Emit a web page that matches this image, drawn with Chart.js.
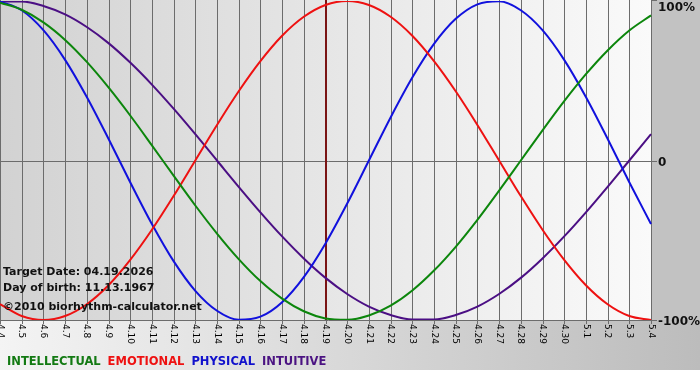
<!DOCTYPE html>
<html>
<head>
<meta charset="utf-8">
<script src="https://cdn.jsdelivr.net/npm/chart.js@4/dist/chart.umd.min.js"></script>
<style>
  html, body { margin: 0; padding: 0; background: #fff; }
  #wrap { width: 700px; height: 370px; }
</style>
</head>
<body>
<div id="wrap"><canvas id="bio" width="700" height="370"></canvas></div>
<script>
(function(){
    "use strict";

    const days = ['4.4','4.5','4.6','4.7','4.8','4.9','4.10','4.11','4.12','4.13','4.14','4.15','4.16','4.17','4.18','4.19','4.20',
        '4.21','4.22','4.23','4.24','4.25','4.26','4.27','4.28','4.29','4.30','5.1','5.2','5.3','5.4'];
    const intellectual = [99.0,94.5,86.6,75.6,61.8,45.8,28.2,9.5,-9.5,-28.2,-45.8,-61.8,-75.6,-86.6,-94.5,-99.0,-99.9,-97.2,-91.0,-81.5,-69.0,-54.1,-37.2,-18.9,0,18.9,37.2,54.1,69.0,81.5,91.0];
    const emotional = [-90.1,-97.5,-100,-97.5,-90.1,-78.2,-62.3,-43.4,-22.3,0,22.3,43.4,62.3,78.2,90.1,97.5,100,97.5,90.1,78.2,62.3,43.4,22.3,0,-22.3,-43.4,-62.3,-78.2,-90.1,-97.5,-100];
    const physical = [99.8,94.2,81.7,63.1,39.8,13.6,-13.6,-39.8,-63.1,-81.7,-94.2,-99.8,-97.9,-88.8,-73.1,-52.0,-27.0,0,27.0,52.0,73.1,88.8,97.9,99.8,94.2,81.7,63.1,39.8,13.6,-13.6,-39.8];
    const intuitive = [99.7,99.7,96.9,91.6,83.7,73.6,61.4,47.6,32.5,16.5,0,-16.5,-32.5,-47.6,-61.4,-73.6,-83.7,-91.6,-96.9,-99.7,-99.7,-96.9,-91.6,-83.7,-73.6,-61.4,-47.6,-32.5,-16.5,0,16.5];
    const yTicks = [100, 0, -100];
    const targetDay = '4.19';
    const infoLines = ['Target Date: 04.19.2026', 'Day of birth: 11.13.1967', '\u00a92010 biorhythm-calculator.net'];
    const legendItems = [
        { text: 'INTELLECTUAL', color: '#137a13' },
        { text: 'EMOTIONAL', color: '#ee1111' },
        { text: 'PHYSICAL', color: '#1111cc' },
        { text: 'INTUITIVE', color: '#4b1382' }
    ];

    const bgPlugin = {
        id: 'bioBg',
        beforeDraw(chart) {
            const c = chart.ctx, a = chart.chartArea, x = chart.scales.x, y = chart.scales.y;
            const W = chart.width, H = chart.height;
            let g = c.createLinearGradient(0, 0, W, 0);
            g.addColorStop(0, '#f4f4f4'); g.addColorStop(1, '#bcbcbc');
            c.save();
            c.fillStyle = g; c.fillRect(0, 0, W, H);
            g = c.createLinearGradient(a.left, 0, a.right, 0);
            g.addColorStop(0, '#d2d2d2'); g.addColorStop(1, '#fafafa');
            c.fillStyle = g; c.fillRect(a.left, a.top - 1, a.right - a.left, a.bottom - a.top + 1);
            c.fillStyle = '#c2c2c2'; c.fillRect(a.right, 0, W - a.right, a.bottom);
            c.strokeStyle = '#6c6c6c'; c.lineWidth = 1;
            c.beginPath();
            days.forEach((d, i) => {
                const px = Math.round(x.getPixelForValue(i)) + 0.5;
                c.moveTo(px, a.top - 1); c.lineTo(px, a.bottom + 4);
            });
            const zy = Math.round(y.getPixelForValue(0)) + 0.5;
            c.moveTo(a.left, zy); c.lineTo(a.right + 6, zy);
            const by = Math.round(a.bottom) + 0.5;
            c.moveTo(a.left, by); c.lineTo(a.right + 6, by);
            const ty = Math.round(a.top) - 0.5;
            c.moveTo(a.right, ty); c.lineTo(a.right + 6, ty);
            c.stroke();
            c.restore();
        },
        beforeDatasetsDraw(chart) {
            const c = chart.ctx, a = chart.chartArea, x = chart.scales.x;
            const px = Math.round(x.getPixelForValue(days.indexOf(targetDay)));
            c.save();
            c.fillStyle = '#7a1414';
            c.fillRect(px - 1, a.top - 1, 2, a.bottom - a.top + 1);
            c.restore();
        },
        afterDraw(chart) {
            const c = chart.ctx, a = chart.chartArea, x = chart.scales.x, y = chart.scales.y;
            c.save();
            // day labels, reading top to bottom
            c.fillStyle = '#000';
            c.font = '9px "DejaVu Sans"';
            c.textAlign = 'left'; c.textBaseline = 'middle';
            days.forEach((d, i) => {
                const px = x.getPixelForValue(i);
                c.save();
                c.translate(px, a.bottom + 4);
                c.rotate(Math.PI / 2);
                c.fillText(d, 0, 0);
                c.restore();
            });
            // right axis
            c.font = 'bold 12px "DejaVu Sans"';
            c.fillStyle = '#111';
            yTicks.forEach(v => {
                const py = Math.max(y.getPixelForValue(v) + 2, 8);
                const txt = v === 0 ? '0' : v + '%';
                c.fillText(txt, a.right + 7, py);
            });
            // info text
            c.font = 'bold 11px "DejaVu Sans"';
            c.fillStyle = '#111';
            infoLines.forEach((t, i) => c.fillText(t, 3, [272, 288, 307][i]));
            // legend
            c.font = 'bold 11.5px "DejaVu Sans"';
            let lx = 7;
            legendItems.forEach(it => {
                c.fillStyle = it.color;
                c.fillText(it.text, lx, 362);
                lx += c.measureText(it.text).width + 7;
            });
            c.restore();
        }
    };

    const mk = (label, data, color) => ({
        label, data, borderColor: color, backgroundColor: color,
        borderWidth: 2, pointRadius: 0, cubicInterpolationMode: 'monotone', fill: false
    });

    new Chart(document.getElementById('bio'), {
        type: 'line',
        data: {
            labels: days,
            datasets: [
                mk('INTELLECTUAL', intellectual, '#0c860c'),
                mk('EMOTIONAL', emotional, '#ee1111'),
                mk('PHYSICAL', physical, '#1111dd'),
                mk('INTUITIVE', intuitive, '#4b0f84')
            ]
        },
        options: {
            responsive: false,
            animation: false,
            devicePixelRatio: 1,
            layout: { padding: { left: 0, top: 1, right: 49, bottom: 50 } },
            plugins: { legend: { display: false }, tooltip: { enabled: false } },
            scales: {
                x: { display: false },
                y: { display: false, min: -100, max: 100 }
            }
        },
        plugins: [bgPlugin]
    });
})();
</script>
</body>
</html>
